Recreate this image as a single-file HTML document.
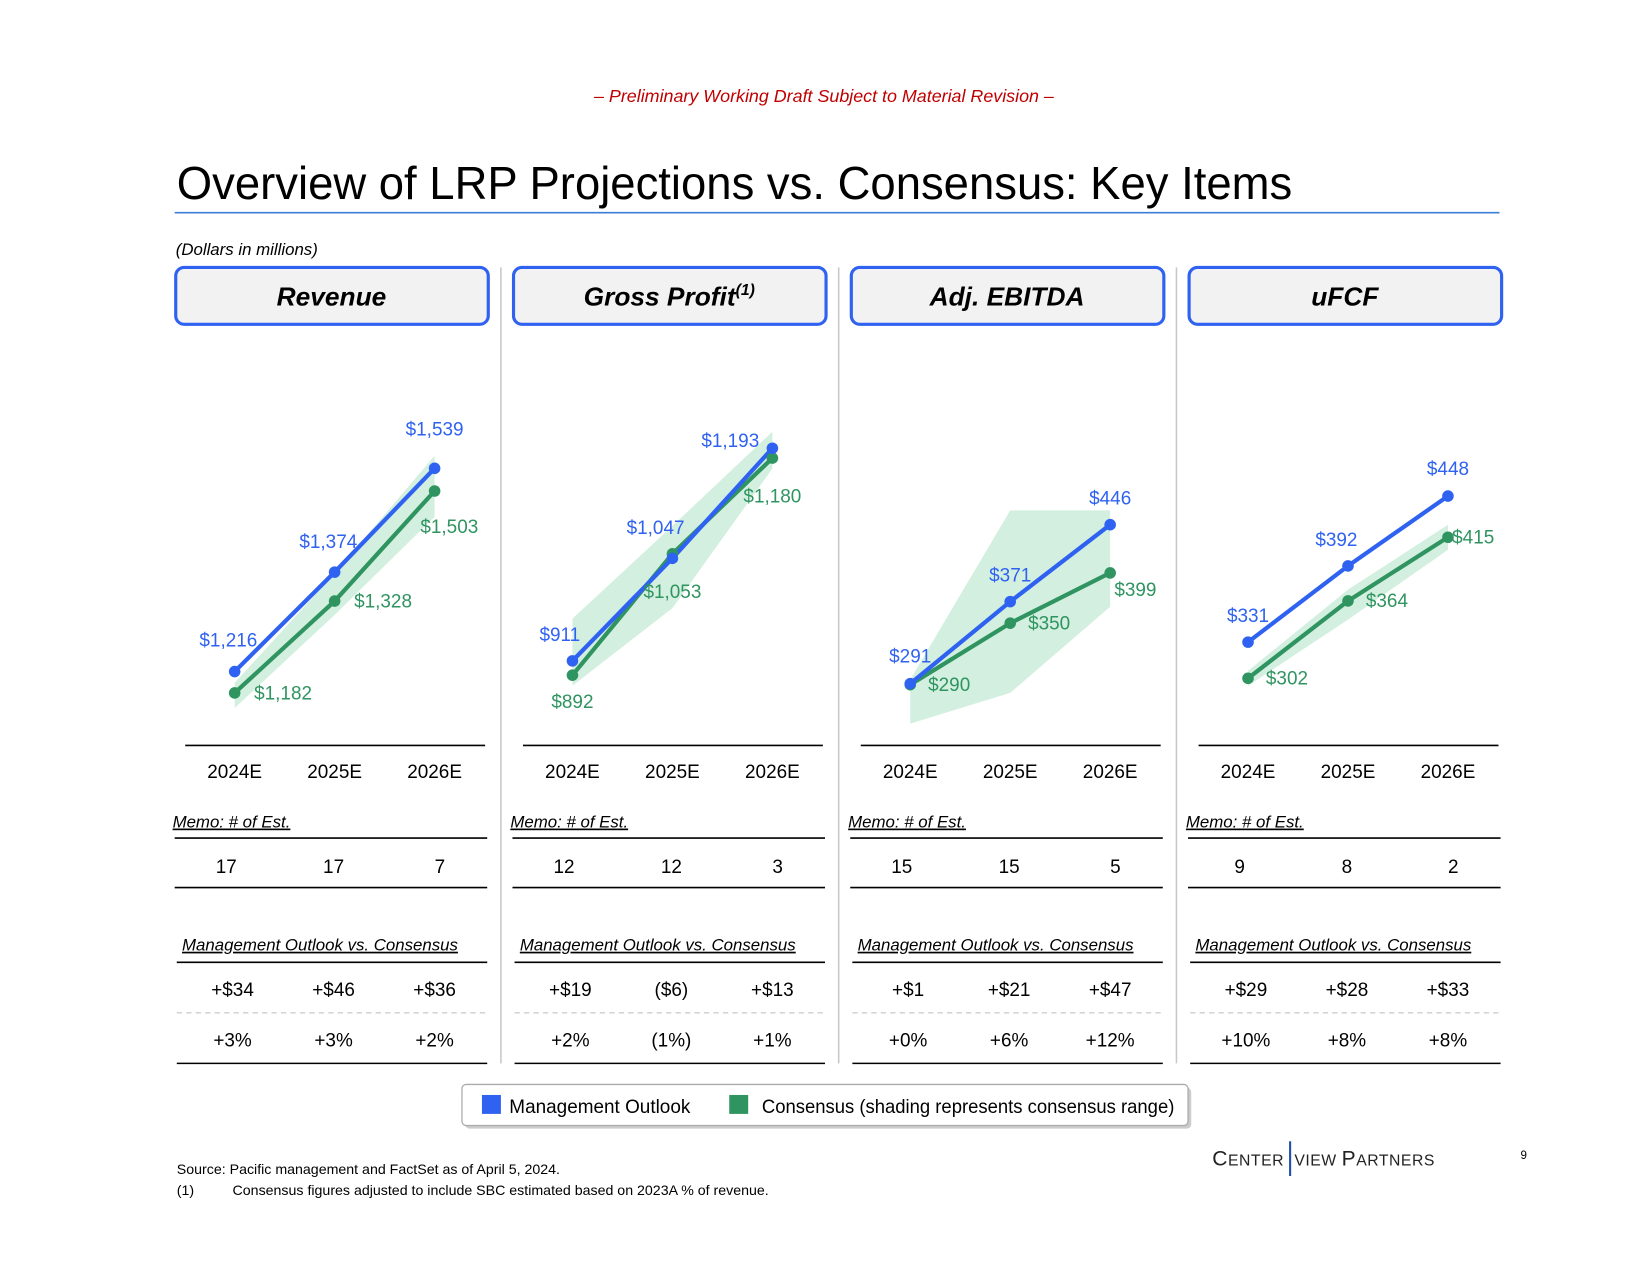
<!DOCTYPE html>
<html><head><meta charset="utf-8"><style>
html,body{margin:0;padding:0;background:#fff;}
svg{display:block;}
text{font-family:"Liberation Sans",sans-serif;}
</style></head><body>
<svg id="page" width="1650" height="1275" viewBox="0 0 1568 1211" preserveAspectRatio="none" xmlns="http://www.w3.org/2000/svg">
<text x="783" y="97" text-anchor="middle" font-size="17" font-style="italic" fill="#c00000">– Preliminary Working Draft Subject to Material Revision –</text>
<text x="168" y="189" font-size="44" fill="#000" textLength="1060" lengthAdjust="spacingAndGlyphs">Overview of LRP Projections vs. Consensus: Key Items</text>
<line x1="166" y1="202" x2="1425" y2="202" stroke="#3a7fd5" stroke-width="1.5"/>
<text x="167" y="242" font-size="16" font-style="italic">(Dollars in millions)</text>
<g id="panels"></g>
<g>
<rect x="442" y="1033" width="690" height="39" rx="4" fill="#999" opacity="0.5"/>
<rect x="439" y="1030" width="690" height="39" rx="4" fill="#fff" stroke="#aaa" stroke-width="1.2"/>
<rect x="458" y="1040" width="18" height="18" fill="#2f62f0"/>
<text x="484" y="1057" font-size="18">Management Outlook</text>
<rect x="693" y="1040" width="18" height="18" fill="#2f9460"/>
<text x="724" y="1057" font-size="18" textLength="392" lengthAdjust="spacingAndGlyphs">Consensus (shading represents consensus range)</text>
</g>
<text x="168" y="1115" font-size="13.5">Source: Pacific management and FactSet as of April 5, 2024.</text>
<text x="168" y="1135" font-size="13.5">(1)</text>
<text x="221" y="1135" font-size="13.5">Consensus figures adjusted to include SBC estimated based on 2023A % of revenue.</text>
<text x="1152" y="1107" font-size="20" font-family="Liberation Serif, serif" fill="#222" letter-spacing="0.5">C<tspan font-size="15">ENTER</tspan></text>
<line x1="1226" y1="1084" x2="1226" y2="1117" stroke="#1f4fa8" stroke-width="2"/>
<text x="1230" y="1107" font-size="15" font-family="Liberation Serif, serif" fill="#222" letter-spacing="0.5">VIEW <tspan font-size="20">P</tspan>ARTNERS</text>
<text x="1445" y="1101" font-size="11">9</text>
</svg>
<script>
const years = ["2024E","2025E","2026E"];
const panelTitles = ["Revenue","Gross Profit","Adj. EBITDA","uFCF"];
const mgmtRevenue = [1216,1374,1539];
const consRevenue = [1182,1328,1503];
const lowRevenue = [1158,1306,1462];
const highRevenue = [1198,1372,1559];
const mgmtGross = [911,1047,1193];
const consGross = [892,1053,1180];
const lowGross = [878,981,1166];
const highGross = [967,1090,1215];
const mgmtEbitda = [291,371,446];
const consEbitda = [290,350,399];
const lowEbitda = [252,282,366];
const highEbitda = [295,460,460];
const mgmtUfcf = [331,392,448];
const consUfcf = [302,364,415];
const lowUfcf = [296,349,405];
const highUfcf = [308,373,425];
const domainLo = [1112,810,239,255];
const domainHi = [1614,1229,547,508];
const estRevenue = ["17","17","7"];
const estGross = ["12","12","3"];
const estEbitda = ["15","15","5"];
const estUfcf = ["9","8","2"];
const diffRevenue = ["+$34","+$46","+$36"];
const diffGross = ["+$19","($6)","+$13"];
const diffEbitda = ["+$1","+$21","+$47"];
const diffUfcf = ["+$29","+$28","+$33"];
const pctRevenue = ["+3%","+3%","+2%"];
const pctGross = ["+2%","(1%)","+1%"];
const pctEbitda = ["+0%","+6%","+12%"];
const pctUfcf = ["+10%","+8%","+8%"];

const MG=[mgmtRevenue,mgmtGross,mgmtEbitda,mgmtUfcf];
const CN=[consRevenue,consGross,consEbitda,consUfcf];
const LO=[lowRevenue,lowGross,lowEbitda,lowUfcf];
const HI=[highRevenue,highGross,highEbitda,highUfcf];
const EST=[estRevenue,estGross,estEbitda,estUfcf];
const DIF=[diffRevenue,diffGross,diffEbitda,diffUfcf];
const PCT=[pctRevenue,pctGross,pctEbitda,pctUfcf];
const mOff=[[[-6,-30],[-6,-29],[0,-37]],[[-12,-25],[-16,-29],[-40,-7]],[[0,-26],[0,-25],[0,-25]],[[0,-25],[-11,-25],[0,-26]]];
const cOff=[[[46,0],[46,0],[14,34]],[[0,25],[0,36],[0,36]],[[37,0],[37,0],[24,16]],[[37,0],[37,0],[24,0]]];
const NS="http://www.w3.org/2000/svg";
const root=document.getElementById('panels');
function mk(tag,attrs,parent,txt){const e=document.createElementNS(NS,tag);for(const k in attrs)e.setAttribute(k,attrs[k]);if(txt!==undefined)e.textContent=txt;parent.appendChild(e);return e;}
function fmt(v){return "$"+v.toLocaleString("en-US");}
const BLUE="#2f62f0",GREEN="#2f9460";
for(let p=0;p<4;p++){
  const off=p*321;
  const g=mk('g',{},root);
  
  
  const xs=[223+off,318+off,413+off];
  const y=v=>700-(v-domainLo[p])/(domainHi[p]-domainLo[p])*300;
  if(p>0){const s=mk('line',{x1:155+off,y1:254,x2:155+off,y2:1010,stroke:"#c8c8c8","stroke-width":1.5},g);
    
    }
  const hb=mk('rect',{x:167+off,y:254,width:297,height:54,rx:8,fill:"#f2f2f2",stroke:BLUE,"stroke-width":3},g);
  
  
  const ht=mk('text',{x:315+off,y:290,"text-anchor":"middle","font-size":25,"font-weight":"bold","font-style":"italic"},g,panelTitles[p]);
  
  
  if(p===1){mk('tspan',{"font-size":15,dy:-10},ht,"(1)");}
  let pts=xs.map((x,i)=>x+","+y(HI[p][i])).concat(xs.slice().reverse().map((x,j)=>x+","+y(LO[p][2-j])));
  const band=mk('polygon',{points:pts.join(" "),fill:"#d3efdf"},g);
  
  
  const cl=mk('polyline',{points:xs.map((x,i)=>x+","+y(CN[p][i])).join(" "),fill:"none",stroke:GREEN,"stroke-width":4},g);
  
  
  const ml=mk('polyline',{points:xs.map((x,i)=>x+","+y(MG[p][i])).join(" "),fill:"none",stroke:BLUE,"stroke-width":4},g);
  
  
  for(let i=0;i<3;i++){
    const c1=mk('circle',{cx:xs[i],cy:y(CN[p][i]),r:5.5,fill:GREEN},g);
    
    
    const c2=mk('circle',{cx:xs[i],cy:y(MG[p][i]),r:5.5,fill:BLUE},g);
    
    
  }
  for(let i=0;i<3;i++){
    const t1=mk('text',{x:xs[i]+mOff[p][i][0],y:y(MG[p][i])+mOff[p][i][1]+6,"text-anchor":"middle","font-size":18,fill:BLUE},g,fmt(MG[p][i]));
    
    
    const t2=mk('text',{x:xs[i]+cOff[p][i][0],y:y(CN[p][i])+cOff[p][i][1]+6,"text-anchor":"middle","font-size":18,fill:GREEN},g,fmt(CN[p][i]));
    
    
  }
  const ax=mk('line',{x1:176+off,y1:708,x2:461+off,y2:708,stroke:"#000","stroke-width":1.5},g);
  
  
  for(let i=0;i<3;i++){const t=mk('text',{x:xs[i],y:739,"text-anchor":"middle","font-size":18},g,years[i]);
    
    }
  const mt=mk('text',{x:164+off,y:786,"font-size":16,"font-style":"italic","text-decoration":"underline"},g,"Memo: # of Est.");
  
  
  mk('line',{x1:166+off,y1:796,x2:463+off,y2:796,stroke:"#000","stroke-width":1.5},g);
  mk('line',{x1:166+off,y1:843,x2:463+off,y2:843,stroke:"#000","stroke-width":1.5},g);
  const ex=[215+off,317+off,418+off];
  const dx=[221+off,317+off,413+off];
  for(let i=0;i<3;i++){
    const t=mk('text',{x:ex[i],y:829,"text-anchor":"middle","font-size":18},g,EST[p][i]);
    
    
    const d=mk('text',{x:dx[i],y:946,"text-anchor":"middle","font-size":18},g,DIF[p][i]);
    
    
    const q=mk('text',{x:dx[i],y:994,"text-anchor":"middle","font-size":18},g,PCT[p][i]);
    
    
  }
  const ot=mk('text',{x:173+off,y:903,"font-size":16,"font-style":"italic","text-decoration":"underline"},g,"Management Outlook vs. Consensus");
  
  
  mk('line',{x1:168+off,y1:914,x2:463+off,y2:914,stroke:"#000","stroke-width":1.5},g);
  mk('line',{x1:168+off,y1:962,x2:463+off,y2:962,stroke:"#bbb","stroke-width":1,"stroke-dasharray":"5,4"},g);
  mk('line',{x1:168+off,y1:1010,x2:463+off,y2:1010,stroke:"#000","stroke-width":1.5},g);
}
</script>
</body></html>
